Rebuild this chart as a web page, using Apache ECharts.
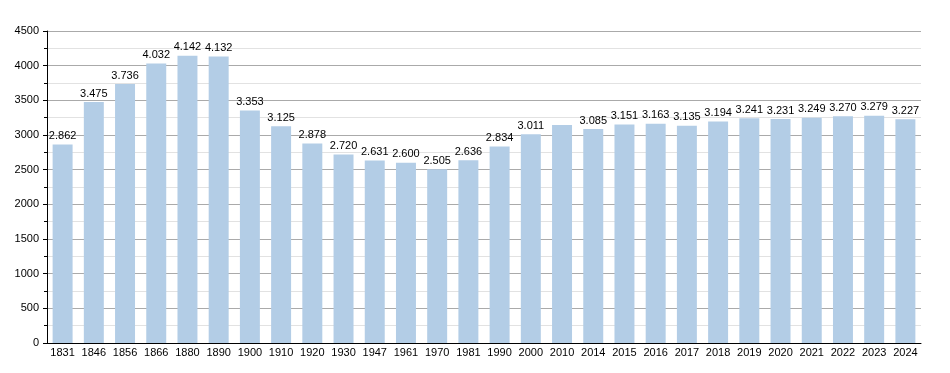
<!DOCTYPE html>
<html><head><meta charset="utf-8">
<script src="https://cdn.jsdelivr.net/npm/echarts@6/dist/echarts.min.js"></script>
<style>html,body{margin:0;padding:0;background:#fff}#c{width:950px;height:373px}</style>
</head><body><div id="c"></div>
<script>
const categories = ["1831","1846","1856","1866","1880","1890","1900","1910","1920","1930","1947","1961","1970","1981","1990","2000","2010","2014","2015","2016","2017","2018","2019","2020","2021","2022","2023","2024"];
const values = [2862,3475,3736,4032,4142,4132,3353,3125,2878,2720,2631,2600,2505,2636,2834,3011,3146,3085,3151,3163,3135,3194,3241,3231,3249,3270,3279,3227];
const hiddenLabels = ["2010"];
const yTicks = [0,500,1000,1500,2000,2500,3000,3500,4000,4500];

const fmt = v => { const s = String(v); return s.length > 3 ? s.slice(0, s.length-3) + "." + s.slice(-3) : s; };
const chart = echarts.init(document.getElementById('c'));
chart.setOption({
  animation: false,
  grid: {left: 47, right: 29, top: 31, bottom: 30},
  xAxis: {
    type: 'category', data: categories,
    axisLine: {lineStyle: {color: '#000', width: 1}},
    axisTick: {show: false},
    axisLabel: {color: '#000', fontFamily: 'Liberation Sans, Arial', fontSize: 11, margin: 4, interval: 0}
  },
  yAxis: {
    type: 'value', min: yTicks[0], max: yTicks[yTicks.length-1], interval: 500,
    axisLine: {show: true, lineStyle: {color: '#000', width: 1}},
    axisTick: {show: true, length: 4, lineStyle: {color: '#000'}},
    minorTick: {show: true, splitNumber: 2, length: 3, lineStyle: {color: '#000'}},
    splitLine: {show: true, lineStyle: {color: '#aaa', width: 1}},
    minorSplitLine: {show: true, lineStyle: {color: '#e2e2e2', width: 1}},
    axisLabel: {color: '#000', fontFamily: 'Liberation Sans, Arial', fontSize: 11, margin: 8,
      formatter: v => String(v)}
  },
  series: [{
    type: 'bar',
    data: values.map((v, i) => ({
      value: v,
      label: {show: hiddenLabels.indexOf(categories[i]) < 0}
    })),
    barCategoryGap: '36%',
    itemStyle: {color: '#b3cde6'},
    label: {position: 'top', distance: 3, color: '#000', fontFamily: 'Liberation Sans, Arial', fontSize: 11,
      formatter: p => fmt(p.value)}
  }]
});
</script></body></html>
